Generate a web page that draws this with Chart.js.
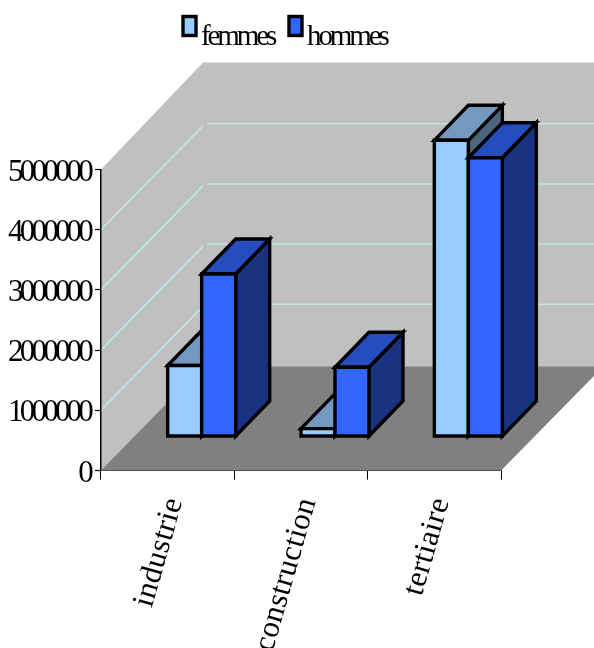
<!DOCTYPE html>
<html>
<head>
<meta charset="utf-8">
<style>
  html, body { margin: 0; padding: 0; background: #fff; overflow: hidden; }
  canvas { display: block; }
</style>
<script src="https://cdn.jsdelivr.net/npm/chart.js@4/dist/chart.umd.js"></script>
</head>
<body>
<canvas id="myChart" width="594" height="648"></canvas>
<script>
var categories = ['industrie', 'construction', 'tertiaire'];
var femmes = [1180000, 130000, 4920000];
var hommes = [2700000, 1150000, 4630000];
var tickValues = [0, 1000000, 2000000, 3000000, 4000000, 5000000];

var FONT = '"Liberation Serif", "Times New Roman", serif';

// depth of the box and of each column, in pixels
var wallDepthX = 102;
var wallDepthY = 104;
var barOffset = 34;

function polygon(ctx, points, fill, stroke) {
    ctx.beginPath();
    points.forEach(function (p, i) {
        if (i === 0) {
            ctx.moveTo(p[0], p[1]);
        } else {
            ctx.lineTo(p[0], p[1]);
        }
    });
    ctx.closePath();
    ctx.fillStyle = fill;
    ctx.fill();
    if (stroke) {
        ctx.strokeStyle = stroke;
        ctx.stroke();
    }
}

function spacedLabels(scale, spacing, shiftY) {
    scale.drawLabels = function (area) {
        var ctx = this.ctx;
        ctx.save();
        ctx.letterSpacing = spacing;
        ctx.translate(0, shiftY);
        Chart.Scale.prototype.drawLabels.call(this, area);
        ctx.restore();
    };
}

var box3d = {
    id: 'box3d',
    beforeDraw: function (chart) {
        var ctx = chart.ctx;
        var a = chart.chartArea;
        var y = chart.scales.y;

        spacedLabels(y, '-3.8px', 3);
        spacedLabels(chart.scales.x, '0.4px', 0);

        ctx.save();
        // walls
        polygon(ctx, [
            [a.left, a.bottom], [a.left, a.top],
            [a.left + wallDepthX, a.top - 107], [a.right + wallDepthX, a.top - 107],
            [a.right + wallDepthX, a.bottom - wallDepthY], [a.right, a.bottom]
        ], '#C0C0C0');

        // gridlines run along the side wall, then across the back wall
        ctx.strokeStyle = '#BFE8E8';
        ctx.lineWidth = 1.5;
        y.ticks.forEach(function (tick) {
            if (tick.value <= 0 || tick.value >= y.max) {
                return;
            }
            var py = y.getPixelForValue(tick.value);
            ctx.beginPath();
            ctx.moveTo(a.left, py);
            ctx.lineTo(a.left + wallDepthX, py - 104);
            ctx.moveTo(a.left + wallDepthX + 4, py - 106);
            ctx.lineTo(a.right + wallDepthX, py - 106);
            ctx.stroke();
        });

        // floor
        polygon(ctx, [
            [a.left, a.bottom], [a.right, a.bottom],
            [a.right + wallDepthX, a.bottom - wallDepthY], [a.left + wallDepthX, a.bottom - wallDepthY]
        ], '#808080');
        ctx.restore();
    },
    beforeDatasetsDraw: function (chart) {
        var ctx = chart.ctx;

        ctx.save();
        ctx.lineWidth = 3.4;
        ctx.lineJoin = 'miter';
        chart.data.datasets.forEach(function (dataset, d) {
            chart.getDatasetMeta(d).data.forEach(function (bar) {
                var x0 = bar.x - bar.width / 2 + barOffset;
                var x1 = bar.x + bar.width / 2 + barOffset;
                var top = bar.y - barOffset;
                var base = bar.base - barOffset;
                var dx = barOffset;
                var dy = barOffset + 1;

                polygon(ctx, [[x1, top], [x1 + dx, top - dy], [x1 + dx, base - dy], [x1, base]],
                    dataset.sideColor, '#000');
                polygon(ctx, [[x0, top], [x0 + dx, top - dy], [x1 + dx, top - dy], [x1, top]],
                    dataset.topColor, '#000');
                polygon(ctx, [[x0, top], [x1, top], [x1, base], [x0, base]],
                    dataset.backgroundColor, '#000');
            });
        });
        ctx.restore();
        return false;
    },
    afterDraw: function (chart) {
        var ctx = chart.ctx;
        var boxes = [182, 288];

        // legend
        ctx.save();
        ctx.font = '29px ' + FONT;
        ctx.letterSpacing = '-3.1px';
        ctx.textBaseline = 'alphabetic';
        ctx.lineWidth = 3.4;
        chart.data.datasets.forEach(function (dataset, d) {
            ctx.fillStyle = dataset.backgroundColor;
            ctx.strokeStyle = '#000';
            ctx.fillRect(boxes[d] + 1, 16.5, 13, 19);
            ctx.strokeRect(boxes[d] + 1, 16.5, 13, 19);
            ctx.fillStyle = '#000';
            ctx.fillText(dataset.label, boxes[d] + 19, 45);
        });
        ctx.restore();
    }
};

var chart = new Chart(document.getElementById('myChart'), {
    type: 'bar',
    data: {
        labels: categories,
        datasets: [{
            label: 'femmes',
            data: femmes,
            backgroundColor: '#99CCFF',
            topColor: '#7399BF',
            sideColor: '#4D6680',
            categoryPercentage: 0.51,
            barPercentage: 1
        }, {
            label: 'hommes',
            data: hommes,
            backgroundColor: '#3366FF',
            topColor: '#264DBF',
            sideColor: '#1A3380',
            categoryPercentage: 0.51,
            barPercentage: 1
        }]
    },
    options: {
        responsive: false,
        animation: false,
        layout: {
            padding: { top: 169.5, right: 93, left: 0, bottom: 0 }
        },
        plugins: {
            legend: { display: false },
            tooltip: { enabled: false }
        },
        scales: {
            x: {
                offset: true,
                afterFit: function (scale) {
                    scale.height = 177.5;
                },
                grid: {
                    offset: true,
                    drawOnChartArea: false,
                    tickLength: 9,
                    tickColor: '#000',
                    tickWidth: 1
                },
                border: { color: '#555', width: 1 },
                ticks: {
                    color: '#000',
                    font: { family: FONT, size: 31 },
                    minRotation: 74,
                    maxRotation: 74,
                    padding: 14,
                    labelOffset: 7
                }
            },
            y: {
                min: 0,
                max: 5000000,
                afterFit: function (scale) {
                    scale.width = 101;
                },
                afterBuildTicks: function (scale) {
                    scale.ticks = tickValues.map(function (v) {
                        return { value: v };
                    });
                },
                grid: {
                    drawOnChartArea: false,
                    tickLength: 6,
                    tickColor: '#000',
                    tickWidth: 1.2
                },
                border: { color: '#000', width: 1.5 },
                ticks: {
                    color: '#000',
                    font: { family: FONT, size: 31 },
                    padding: 5,
                    autoSkip: false,
                    callback: function (value) {
                        return String(value);
                    }
                }
            }
        }
    },
    plugins: [box3d]
});
</script>
</body>
</html>
